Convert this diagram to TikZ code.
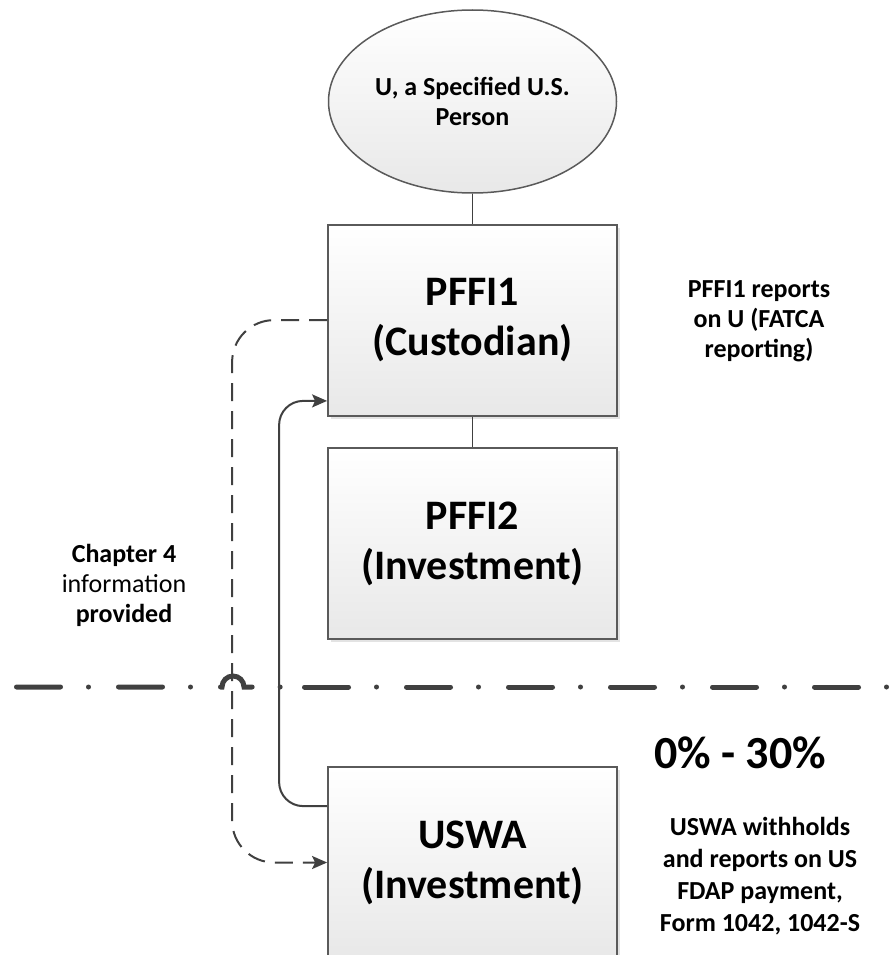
\documentclass[tikz,border=0pt]{standalone}
\usepackage{fontspec}
\setmainfont{Carlito}
\usetikzlibrary{shapes.geometric,arrows.meta,shadows}
\definecolor{boxline}{HTML}{5A5A5A}
\definecolor{conncol}{HTML}{404040}
\begin{document}
\begin{tikzpicture}[x=1pt,y=1pt,
  box/.style={draw=boxline,line width=1.8pt,top color=white,bottom color=black!9,
    minimum width=289pt,minimum height=191pt,inner sep=0pt,align=center,
    font=\fontsize{42}{50}\selectfont\bfseries,
    drop shadow={shadow xshift=3pt,shadow yshift=-3pt,fill=black!18,opacity=0.6}},
  person/.style={ellipse,draw=boxline,line width=1.5pt,top color=white,bottom color=black!9,
    minimum width=288pt,minimum height=183pt,inner sep=0pt,align=center,
    font=\fontsize{26}{30}\selectfont\bfseries},
  lbl/.style={align=center,inner sep=0pt,font=\fontsize{26}{30}\selectfont\bfseries},
  link/.style={draw=conncol,line width=1.8pt},
  conn/.style={draw=conncol,line width=2pt,-{Stealth[length=15pt,width=13pt,inset=3pt]}},
  dconn/.style={conn,dash pattern=on 18pt off 10pt},
  dashdot/.style={draw=conncol,line width=5pt,line cap=round,dash pattern=on 44pt off 28pt on 0pt off 30pt}
]
\useasboundingbox (0,0) rectangle (892,-955);
\clip (0,0) rectangle (892,-955);

\node[person] (u) at (472.5,-101.5) {U, a Specified U.S.\\Person};
\node[box] (p1) at (472.5,-320.5) {PFFI1\\(Custodian)};
\node[box] (p2) at (472.5,-543.5) {PFFI2\\(Investment)};
\node[box] (uswa) at (472.5,-862.5) {USWA\\(Investment)};

\draw[link] (u.south) -- (p1.north);
\draw[link] (p1.south) -- (p2.north);

\node[lbl] (rep) at (759,-321) {PFFI1 reports\\on U (FATCA\\reporting)};
\node[lbl,font=\fontsize{26}{30}\selectfont] (ch4) at (124,-585.5) {\textbf{Chapter 4}\\information\\\textbf{provided}};
\node[anchor=base,inner sep=0pt,font=\fontsize{46}{55}\selectfont\bfseries] (pct) at (740,-768) {0\% - 30\%};
\node[lbl,font=\fontsize{26}{32}\selectfont\bfseries] (wh) at (760,-876) {USWA withholds\\and reports on US\\FDAP payment,\\Form 1042, 1042-S};

\draw[conn,rounded corners=24pt] ([yshift=-40pt]uswa.north west) -- ++(-48,0) |- ([yshift=16pt]p1.south west);
\draw[dconn,rounded corners=42pt] ([yshift=-96pt]p1.north west) -- ++(-95,0) |- (uswa.west);

\coordinate (l0) at (16.5,-687);
\coordinate (hop) at (222,-687);
\coordinate (l1) at (281,-687);
\coordinate (r0) at (304.5,-687);
\coordinate (r1) at (892,-687);
\draw[dashdot] (l0) -- (hop) arc[start angle=180,end angle=0,radius=11] -- (l1);
\draw[dashdot] (r0) -- (r1);
\end{tikzpicture}
\end{document}
